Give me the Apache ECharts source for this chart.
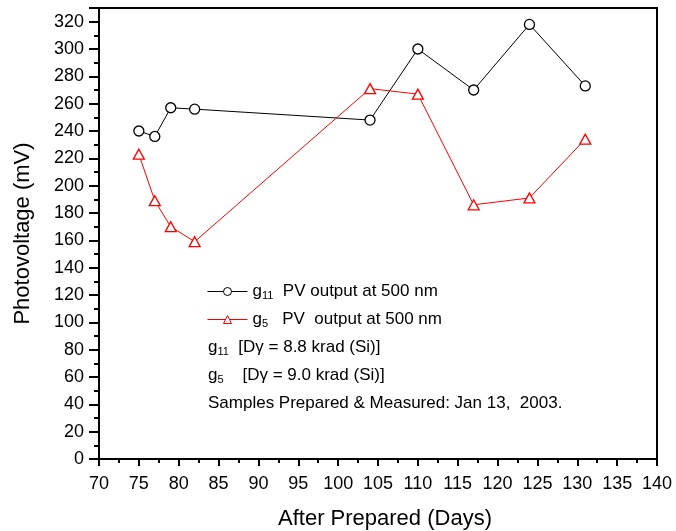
<!DOCTYPE html>
<html>
<head>
<meta charset="utf-8">
<script src="https://cdn.jsdelivr.net/npm/echarts@6/dist/echarts.min.js"></script>
<style>
  html, body { margin: 0; padding: 0; background: #fff; }
  #chart { width: 676px; height: 531px; }
</style>
</head>
<body>
<div id="chart"></div>
<script>
// Days after preparation and photovoltage readings (mV) at 500 nm
const days = [75, 77, 79, 82, 104, 110, 117, 124, 131];
const g11Values = [240, 236, 257, 256, 248, 300, 270, 318, 273];
const g5Values = [223, 189, 170, 159, 271, 267, 186, 191, 234];

const xTicks = { min: 70, max: 140, step: 5 };
const yTicks = { min: 0, max: 330, step: 20 };

const FONT = 'Liberation Sans, Arial, sans-serif';

const pair = (xs, ys) => xs.map((x, i) => [x, ys[i]]);

// base text plus a lowered subscript
const subRich = {
  base: { fontFamily: FONT, fontSize: 17, color: '#000' },
  sub: { fontFamily: FONT, fontSize: 11, color: '#000', padding: [8, 0, 0, 0] }
};

const legendCommon = {
  orient: 'vertical',
  left: 207,
  padding: 0,
  itemWidth: 40, itemHeight: 10, itemGap: 0,
  lineStyle: { width: 1 },
  itemStyle: { borderWidth: 1 },
  textStyle: { fontFamily: FONT, fontSize: 17, color: '#000', rich: subRich },
  formatter: function (name) {
    return name === 'g11'
      ? '{base|g}{sub|11}{base|  PV output at 500 nm}'
      : '{base|g}{sub|5}{base|   PV  output at 500 nm}';
  }
};

const chart = echarts.init(document.getElementById('chart'), null, { renderer: 'canvas' });

chart.setOption({
  backgroundColor: '#fff',
  animation: false,
  grid: {
    left: 99, right: 19, top: 8, bottom: 72,
    outerBoundsMode: 'none',
    show: true, borderColor: '#000', borderWidth: 2, backgroundColor: 'transparent'
  },
  xAxis: {
    type: 'value',
    min: xTicks.min, max: xTicks.max, interval: xTicks.step,
    name: 'After Prepared (Days)',
    nameLocation: 'middle', nameGap: 49,
    nameTextStyle: { fontFamily: FONT, fontSize: 22, color: '#000', padding: [0, 0, 0, 14] },
    axisLine: { show: true, lineStyle: { color: '#000', width: 2 } },
    axisTick: { show: true, inside: false, length: 7, lineStyle: { color: '#000', width: 2 } },
    minorTick: { show: true, splitNumber: 2, length: 4, lineStyle: { color: '#000', width: 2 } },
    axisLabel: { fontFamily: FONT, fontSize: 18, color: '#000', margin: 16 },
    splitLine: { show: false }
  },
  yAxis: {
    type: 'value',
    min: yTicks.min, max: yTicks.max, interval: yTicks.step,
    name: 'Photovoltage (mV)',
    nameLocation: 'middle', nameGap: 65,
    nameTextStyle: { fontFamily: FONT, fontSize: 22, color: '#000' },
    axisLine: { show: true, lineStyle: { color: '#000', width: 2 } },
    axisTick: { show: true, inside: false, length: 10, lineStyle: { color: '#000', width: 2 } },
    minorTick: { show: true, splitNumber: 2, length: 5, lineStyle: { color: '#000', width: 2 } },
    axisLabel: { fontFamily: FONT, fontSize: 18, color: '#000', margin: 15, showMaxLabel: false },
    splitLine: { show: false }
  },
  legend: [
    Object.assign({}, legendCommon, { top: 283, data: ['g11'] }),
    Object.assign({}, legendCommon, { top: 311, data: ['g5'] })
  ],
  graphic: [
    {
      type: 'text', left: 208, top: 339,
      style: { text: '{base|g}{sub|11}{base|  [Dγ = 8.8 krad (Si)]}', rich: subRich }
    },
    {
      type: 'text', left: 208, top: 367,
      style: { text: '{base|g}{sub|5}{base|    [Dγ = 9.0 krad (Si)]}', rich: subRich }
    },
    {
      type: 'text', left: 208, top: 395,
      style: { text: 'Samples Prepared & Measured: Jan 13,  2003.', font: '17px ' + FONT, fill: '#000' }
    }
  ],
  series: [
    {
      name: 'g11',
      type: 'line',
      data: pair(days, g11Values),
      symbol: 'circle', symbolSize: 10,
      lineStyle: { color: '#000', width: 1 },
      itemStyle: { color: '#fff', borderColor: '#000', borderWidth: 1.3 },
      color: '#000'
    },
    {
      name: 'g5',
      type: 'line',
      data: pair(days, g5Values),
      symbol: 'triangle', symbolSize: [11, 10],
      lineStyle: { color: '#ff0000', width: 1 },
      itemStyle: { color: '#fff', borderColor: '#ff0000', borderWidth: 1.3 },
      color: '#ff0000'
    }
  ]
});
</script>
</body>
</html>
